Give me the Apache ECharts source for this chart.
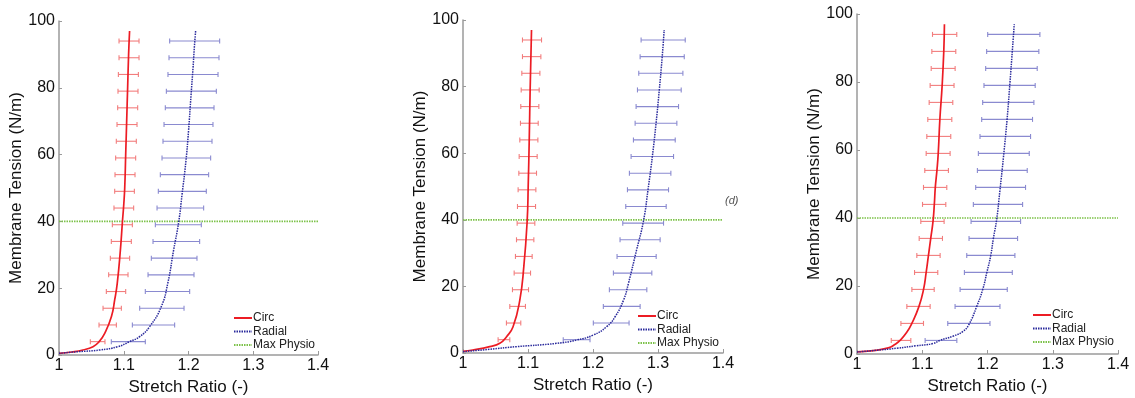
<!DOCTYPE html>
<html>
<head>
<meta charset="utf-8">
<script src="https://cdn.jsdelivr.net/npm/echarts@6/dist/echarts.min.js"></script>
<style>
html,body{margin:0;padding:0;background:#fff;}
#chart{width:1135px;height:398px;}
</style>
</head>
<body>
<div id="chart"></div>
<script>
// ---------- data ----------
const xTicks = [1, 1.1, 1.2, 1.3, 1.4];
const yTicks = [0, 20, 40, 60, 80, 100];
const seriesNames = ['Circ', 'Radial', 'Max Physio'];
const maxPhysioTension = 40;
const barTension = [4, 9, 14, 19, 24, 29, 34, 39, 44, 49, 54, 59, 64, 69, 74, 79, 84, 89, 94];

// Panel 1
const p1CircStretch  = [1.0, 1.02, 1.037, 1.0525, 1.062, 1.0706, 1.081, 1.086, 1.090, 1.0948, 1.098, 1.100, 1.1015, 1.103, 1.1045, 1.106, 1.1075, 1.109];
const p1CircTension  = [0.5, 0.9, 1.5, 2.5, 4, 6.5, 11.5, 16.5, 21.5, 31.4, 40, 45, 50, 60, 70, 80, 90, 97];
const p1RadStretch   = [1.0, 1.03, 1.063, 1.091, 1.109, 1.1246, 1.140, 1.158, 1.168, 1.177, 1.185, 1.190, 1.196, 1.200, 1.204, 1.207, 1.209, 1.211];
const p1RadTension   = [0.5, 1, 1.5, 2.5, 4, 5.5, 8.5, 14.5, 21.5, 31.4, 40, 48, 58, 67, 78, 86, 92, 97];
const p1CircLow  = [1.0484,1.0618,1.0680,1.0731,1.0767,1.0793,1.0808,1.0824,1.0849,1.0860,1.0865,1.0875,1.0885,1.0896,1.0906,1.0911,1.0917,1.0927,1.0927];
const p1CircHigh = [1.0710,1.0886,1.0963,1.1030,1.1066,1.1091,1.1117,1.1133,1.1153,1.1164,1.1174,1.1184,1.1194,1.1205,1.1215,1.1220,1.1226,1.1236,1.1236];
const p1RadLow   = [1.0808,1.1133,1.1246,1.1333,1.1375,1.1426,1.1452,1.1488,1.1514,1.1534,1.1565,1.1591,1.1606,1.1622,1.1642,1.1658,1.1683,1.1699,1.1709];
const p1RadHigh  = [1.1333,1.1786,1.1931,1.2018,1.2085,1.2131,1.2172,1.2198,1.2234,1.2275,1.2311,1.2342,1.2363,1.2378,1.2394,1.2430,1.2456,1.2471,1.2481];

// Panel 2
const p2CircStretch  = [1.0, 1.015, 1.041, 1.0566, 1.067, 1.077, 1.0874, 1.0936, 1.0987, 1.1003, 1.102, 1.1033, 1.1054];
const p2CircTension  = [0.5, 0.9, 1.9, 2.9, 4.9, 7.9, 15.9, 26, 39.6, 50, 65, 79, 97];
const p2RadStretch   = [1.0, 1.04, 1.082, 1.144, 1.175, 1.2005, 1.221, 1.234, 1.247, 1.2545, 1.267, 1.2776, 1.2846, 1.2913, 1.297, 1.302, 1.3065, 1.3095];
const p2RadTension   = [0.4, 1.1, 1.9, 2.9, 3.9, 5.4, 7.9, 10.9, 15.9, 20.9, 30.9, 39.6, 49, 59, 69, 79, 89, 97];
const p2CircLow  = [1.054,1.0668,1.072,1.0761,1.0787,1.0807,1.0823,1.0833,1.0838,1.0848,1.0859,1.0864,1.0874,1.0884,1.0889,1.0895,1.0905,1.0915,1.0915];
const p2CircHigh = [1.072,1.0889,1.0961,1.1008,1.1039,1.1064,1.109,1.1105,1.1116,1.1121,1.1131,1.1141,1.1152,1.1157,1.1167,1.1172,1.1183,1.1198,1.1208];
const p2RadLow   = [1.1542,1.2005,1.2159,1.2252,1.2314,1.237,1.2416,1.2458,1.2504,1.253,1.256,1.2586,1.2622,1.2648,1.2663,1.2684,1.2704,1.2725,1.274];
const p2RadHigh  = [1.1954,1.2555,1.2725,1.2828,1.2905,1.2972,1.3033,1.3085,1.3126,1.3162,1.3198,1.3239,1.3265,1.329,1.3316,1.3357,1.3383,1.3404,1.3419];

// Panel 3
const p3CircStretch  = [1.0, 1.025, 1.048, 1.058, 1.066, 1.076, 1.084, 1.095, 1.102, 1.106, 1.1095, 1.113, 1.1165, 1.1185, 1.12, 1.1225, 1.1245, 1.127, 1.1305, 1.133, 1.134];
const p3CircTension  = [0.6, 1.0, 1.8, 2.8, 4, 6.3, 9, 14, 19, 24, 29, 34, 39, 44, 49, 54, 59, 69, 79, 89, 97];
const p3RadStretch   = [1.0, 1.03, 1.061, 1.09, 1.117, 1.127, 1.148, 1.162, 1.171, 1.1835, 1.1927, 1.199, 1.205, 1.209, 1.214, 1.219, 1.2245, 1.23, 1.2345, 1.238, 1.241];
const p3RadTension   = [0.6, 1.1, 1.7, 2.4, 3.1, 4, 5.3, 6.6, 8.5, 14, 19, 24, 29, 34, 39.5, 48, 58, 69, 80, 89, 97];
const p3CircLow  = [1.0525,1.0673,1.0764,1.0841,1.0882,1.0917,1.0953,1.0978,1.1004,1.1019,1.1039,1.106,1.107,1.1085,1.1106,1.1121,1.1137,1.1147,1.1157];
const p3CircHigh = [1.0825,1.1019,1.1121,1.1183,1.1238,1.1274,1.131,1.1335,1.1361,1.1376,1.1401,1.1427,1.1437,1.1453,1.1468,1.1487,1.1504,1.1514,1.1529];
const p3RadLow   = [1.1044,1.1391,1.1503,1.158,1.1646,1.1682,1.1717,1.1748,1.1783,1.1819,1.1845,1.186,1.1885,1.1911,1.1926,1.1946,1.1972,1.1987,1.2003];
const p3RadHigh  = [1.153,1.2038,1.2191,1.2303,1.238,1.242,1.2461,1.2507,1.2538,1.2583,1.2609,1.264,1.266,1.269,1.2711,1.2731,1.2762,1.2787,1.2803];

const panelNote = '(d)';

// ---------- build ----------
const panels = [
  {circ:[p1CircStretch,p1CircTension], rad:[p1RadStretch,p1RadTension], circErr:[p1CircLow,p1CircHigh], radErr:[p1RadLow,p1RadHigh]},
  {circ:[p2CircStretch,p2CircTension], rad:[p2RadStretch,p2RadTension], circErr:[p2CircLow,p2CircHigh], radErr:[p2RadLow,p2RadHigh]},
  {circ:[p3CircStretch,p3CircTension], rad:[p3RadStretch,p3RadTension], circErr:[p3CircLow,p3CircHigh], radErr:[p3RadLow,p3RadHigh]}
];

const gridBoxes = [
  {left:59, top:21, width:259, height:334},
  {left:463, top:20, width:260, height:333},
  {left:857, top:14, width:261, height:340}
];
const legendPos = [
  {left:233, top:312},
  {left:637, top:310},
  {left:1032, top:309}
];

const RED = '#ec1c24', RED_BAR = '#f27d7d';
const BLUE = '#2a2a9c', BLUE_BAR = '#8a8ad0';
const GREEN = '#7dc24a';
const AXIS = '#9a9a9a';
const TXT = '#111111';
const FONT = 'Liberation Sans, Arial, sans-serif';

function pairs(xs, ys){ return xs.map((x,i)=>[x, ys[i]]); }
function errData(lo, hi){ return barTension.map((t,i)=>[lo[i], t, hi[i]]); }

function errRender(params, api){
  const lo = api.coord([api.value(0), api.value(1)]);
  const hi = api.coord([api.value(2), api.value(1)]);
  const c = api.visual('color');
  const h = 2.5;
  const st = {stroke:c, lineWidth:1.1};
  return {type:'group', children:[
    {type:'line', shape:{x1:lo[0], y1:lo[1], x2:hi[0], y2:hi[1]}, style:st},
    {type:'line', shape:{x1:lo[0], y1:lo[1]-h, x2:lo[0], y2:lo[1]+h}, style:st},
    {type:'line', shape:{x1:hi[0], y1:hi[1]-h, x2:hi[0], y2:hi[1]+h}, style:st}
  ]};
}

const grid = [], xAxis = [], yAxis = [], series = [], legend = [];
panels.forEach((p, k) => {
  grid.push(Object.assign({containLabel:false, outerBoundsMode:'none'}, gridBoxes[k]));
  xAxis.push({
    type:'value', gridIndex:k, min:xTicks[0], max:xTicks[xTicks.length-1], interval:0.1,
    name:'Stretch Ratio (-)', nameLocation:'middle', nameGap:20,
    nameTextStyle:{fontSize:17, color:TXT, fontFamily:FONT},
    axisLine:{show:true, lineStyle:{color:AXIS, width:1.5}},
    axisTick:{show:true, inside:true, length:4, lineStyle:{color:AXIS}},
    axisLabel:{fontSize:16, color:TXT, margin:3, fontFamily:FONT,
      formatter: v => String(Math.round(v*10)/10)},
    splitLine:{show:false}
  });
  yAxis.push({
    type:'value', gridIndex:k, min:yTicks[0], max:yTicks[yTicks.length-1], interval:20,
    name:'Membrane Tension (N/m)', nameLocation:'middle', nameGap:32,
    nameTextStyle:{fontSize:17, color:TXT, fontFamily:FONT},
    axisLine:{show:true, lineStyle:{color:AXIS, width:1.5}},
    axisTick:{show:true, inside:true, length:3, lineStyle:{color:AXIS}},
    axisLabel:{fontSize:16, color:TXT, margin:4, fontFamily:FONT},
    splitLine:{show:false}
  });
  series.push({
    name:'Circ err', type:'custom', xAxisIndex:k, yAxisIndex:k, renderItem:errRender,
    itemStyle:{color:RED_BAR}, encode:{x:[0,2], y:1}, data:errData(p.circErr[0], p.circErr[1]), z:2
  });
  series.push({
    name:'Radial err', type:'custom', xAxisIndex:k, yAxisIndex:k, renderItem:errRender,
    itemStyle:{color:BLUE_BAR}, encode:{x:[0,2], y:1}, data:errData(p.radErr[0], p.radErr[1]), z:2
  });
  series.push({
    name:seriesNames[0], type:'line', xAxisIndex:k, yAxisIndex:k, showSymbol:false, symbol:'none',
    smooth:0.5, color:RED,
    lineStyle:{color:RED, width:1.7}, data:pairs(p.circ[0], p.circ[1]), z:4
  });
  series.push({
    name:seriesNames[1], type:'line', xAxisIndex:k, yAxisIndex:k, showSymbol:false, symbol:'none',
    smooth:0.5, color:BLUE,
    lineStyle:{color:BLUE, width:1.5, type:[1.5,1]}, data:pairs(p.rad[0], p.rad[1]), z:4
  });
  series.push({
    name:seriesNames[2], type:'line', xAxisIndex:k, yAxisIndex:k, showSymbol:false, symbol:'none',
    color:GREEN, lineStyle:{color:GREEN, width:1.7, type:[1.5,1]},
    data:[[xTicks[0], maxPhysioTension],[xTicks[xTicks.length-1], maxPhysioTension]], z:3
  });
  legend.push({
    show:true, orient:'vertical', left:legendPos[k].left, top:legendPos[k].top,
    data:seriesNames, itemWidth:18, itemHeight:8, itemGap:1.5, padding:0,
    selectedMode:false,
    itemStyle:{opacity:0},
    lineStyle:{opacity:1},
    textStyle:{fontSize:12, color:'#222', lineHeight:12, fontFamily:FONT, padding:[0,0,0,-4]}
  });
});

const chart = echarts.init(document.getElementById('chart'), null, {renderer:'canvas'});
chart.setOption({
  backgroundColor:'#ffffff',
  animation:false,
  grid, xAxis, yAxis, series, legend,
  graphic:[{
    type:'text', left:725, top:195,
    style:{text:panelNote, fontSize:11, fontStyle:'italic', fill:'#555', fontFamily:FONT}
  }]
});
</script>
</body>
</html>
